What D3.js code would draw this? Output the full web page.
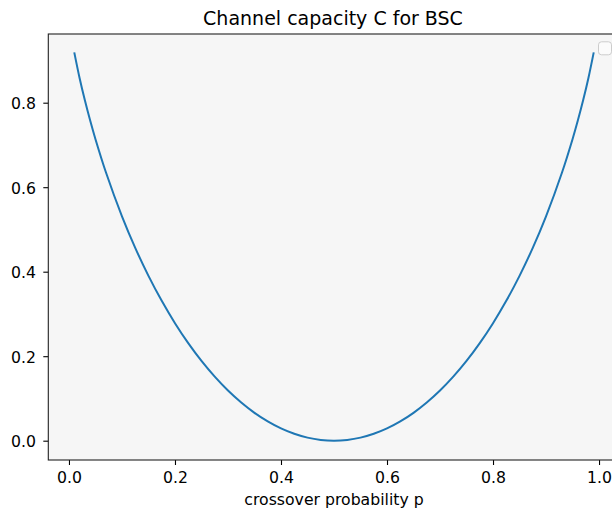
<!DOCTYPE html>
<html><head><meta charset="utf-8">
<script src="https://cdn.jsdelivr.net/npm/d3@7"></script>
<style>body{margin:0;background:#fff}svg{display:block;font-family:"DejaVu Sans",sans-serif}</style>
</head><body><svg id="c" width="612" height="511"></svg>
<script>
const pValues = [0.01,0.02,0.03,0.04,0.05,0.07,0.1,0.125,0.15,0.175,0.2,0.225,0.25,0.275,0.3,0.325,0.35,0.375,0.4,0.425,0.45,0.475,0.5,
  0.525,0.55,0.575,0.6,0.625,0.65,0.675,0.7,0.725,0.75,0.775,0.8,0.825,0.85,0.875,0.9,0.93,0.95,0.96,0.97,0.98,0.99];
const capacity = [0.9192,0.8586,0.8056,0.7577,0.7136,0.6341,0.5310,0.4564,0.3902,0.3310,0.2781,0.2308,0.1887,0.1515,0.1187,0.0903,0.0659,0.0456,0.0290,0.0163,0.0072,0.0018,0.0,
  0.0018,0.0072,0.0163,0.0290,0.0456,0.0659,0.0903,0.1187,0.1515,0.1887,0.2308,0.2781,0.3310,0.3902,0.4564,0.5310,0.6341,0.7136,0.7577,0.8056,0.8586,0.9192];
const xTicks = [0,0.2,0.4,0.6,0.8,1.0];
const yTicks = [0,0.2,0.4,0.6,0.8];
const title = "Channel capacity C for BSC";
const xLabel = "crossover probability p";

const svg = d3.select("#c");
const L = 48.3, R = 619.7, T = 34, B = 460;
const x = d3.scaleLinear().domain([-0.039, 1.039]).range([L, R]);
const y = d3.scaleLinear().domain([-0.0457, 0.9626]).range([B, T]);

svg.append("rect").attr("x", L).attr("y", T).attr("width", R - L).attr("height", B - T).attr("fill", "#f6f6f6");

const line = d3.line().x((d, i) => x(pValues[i])).y(d => y(d)).curve(d3.curveCatmullRom);
svg.append("path").datum(capacity).attr("d", line).attr("fill", "none")
  .attr("stroke", "#1f77b4").attr("stroke-width", 2);

const xa = svg.append("g").attr("transform", `translate(0,${B})`)
  .call(d3.axisBottom(x).tickValues(xTicks).tickFormat(d3.format(".1f")).tickSize(5).tickPadding(4));
const ya = svg.append("g").attr("transform", `translate(${L},0)`)
  .call(d3.axisLeft(y).tickValues(yTicks).tickFormat(d3.format(".1f")).tickSize(5).tickPadding(4));
[xa, ya].forEach(a => {
  a.selectAll("text").attr("font-size", 15.7).attr("font-family", "DejaVu Sans").attr("fill", "#000");
  a.selectAll("line").attr("stroke", "#000").attr("stroke-width", 1.1);
  a.select(".domain").remove();
});
xa.selectAll("text").attr("y", 23).attr("dy", null);
ya.selectAll("text").attr("x", -12.3).attr("dy", "0.38em");
// spines
svg.append("rect").attr("x", L).attr("y", T).attr("width", R - L).attr("height", B - T)
  .attr("fill", "none").attr("stroke", "#222").attr("stroke-width", 1.1);

svg.append("text").attr("x", (L + R) / 2 - 1).attr("y", 25).attr("text-anchor", "middle")
  .attr("font-size", 19).attr("fill", "#000").text(title);
svg.append("text").attr("x", (L + R) / 2).attr("y", 505).attr("text-anchor", "middle")
  .attr("font-size", 15.7).attr("fill", "#000").text(xLabel);

// empty legend box
svg.append("rect").attr("x", 598.5).attr("y", 41.8).attr("width", 13).attr("height", 13).attr("rx", 3)
  .attr("fill", "#fbfbfb").attr("stroke", "#cccccc").attr("stroke-width", 1);
</script></body></html>
